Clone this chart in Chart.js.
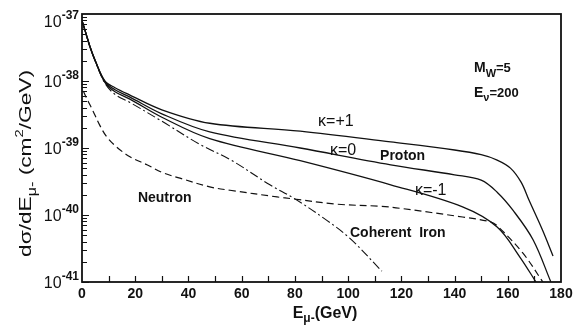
<!DOCTYPE html>
<html>
<head>
<meta charset="utf-8">
<script src="https://cdn.jsdelivr.net/npm/chart.js@4/dist/chart.umd.min.js"></script>
<style>
  html, body { margin: 0; padding: 0; background: #fff; }
  #wrap { width: 576px; height: 329px; }
</style>
</head>
<body>
<div id="wrap"><canvas id="chart" width="576" height="329"></canvas></div>
<script>
// muon energy (GeV) and dsigma/dE (cm^2/GeV) for each curve
const E_KAPPA_PLUS = [0, 1.1, 3, 4.9, 8.6, 12.4, 18, 30, 48, 82, 116, 140, 150, 156, 161, 165, 168, 173, 177];
const SIG_KAPPA_PLUS = [7.94e-38, 5.75e-38, 3.24e-38, 2.04e-38, 1.00e-38, 7.94e-39, 6.17e-39, 3.72e-39, 2.34e-39, 1.78e-39, 1.23e-39, 9.33e-40, 7.94e-40, 6.61e-40, 5.01e-40, 3.09e-40, 1.66e-40, 6.03e-41, 2.45e-41];

const E_KAPPA_ZERO = [0, 1.1, 3, 4.9, 8.6, 12.4, 18, 30, 48, 82, 116, 140, 150, 156, 162, 169.5, 176.2];
const SIG_KAPPA_ZERO = [7.94e-38, 5.75e-38, 3.24e-38, 2.04e-38, 9.77e-39, 7.41e-39, 5.75e-39, 3.24e-39, 1.74e-39, 1.00e-39, 5.62e-40, 3.98e-40, 3.31e-40, 2.19e-40, 1.17e-40, 4.27e-41, 1.0e-41];

const E_KAPPA_MINUS = [0, 1.1, 3, 4.9, 8.6, 12.4, 18, 30, 48, 82, 116, 143, 156, 164.6, 170.6];
const SIG_KAPPA_MINUS = [7.94e-38, 5.75e-38, 3.24e-38, 2.04e-38, 9.55e-39, 6.92e-39, 5.37e-39, 2.88e-39, 1.38e-39, 6.46e-40, 2.82e-40, 1.32e-40, 6.61e-41, 2.34e-41, 1.0e-41];

const E_DASHDOT = [0, 1.1, 3, 4.9, 8.6, 12.4, 18, 30, 44, 56, 70.6, 80, 92, 100.7, 112.7];
const SIG_DASHDOT = [7.94e-38, 5.75e-38, 3.24e-38, 2.00e-38, 9.33e-39, 6.31e-39, 4.79e-39, 2.51e-39, 1.15e-39, 6.61e-40, 2.82e-40, 1.74e-40, 8.32e-41, 4.47e-41, 1.45e-41];

const E_DASHED = [0.5, 2, 3.8, 6.8, 9.4, 13.2, 18, 24.4, 30.4, 36.8, 48, 55.6, 73.3, 79.3, 95.8, 112, 119.5, 143, 153.3, 156, 165.7, 173.2];
const SIG_DASHED = [7.08e-39, 5.25e-39, 3.80e-39, 2.14e-39, 1.45e-39, 1.02e-39, 7.41e-40, 5.62e-40, 4.27e-40, 3.55e-40, 2.63e-40, 2.34e-40, 1.86e-40, 1.74e-40, 1.45e-40, 1.35e-40, 1.26e-40, 9.33e-41, 7.94e-41, 6.92e-41, 2.69e-41, 1.0e-41];

const X_TICK_LABELS = [0, 20, 40, 60, 80, 100, 120, 140, 160, 180];
const Y_TICK_VALUES = [1e-37, 1e-38, 1e-39, 1e-40, 1e-41];
const Y_TICK_EXPONENTS = ["-37", "-38", "-39", "-40", "-41"];

const FONT = '"Liberation Sans", Arial, sans-serif';
const INK = "#111";

const pts = (xs, ys) => xs.map((x, i) => ({ x, y: ys[i] }));

// text labels placed in data coordinates
const NOTES = [
  { x: 88.7, y: 2.14e-39, parts: [{ t: "κ=+1", s: 16 }] },
  { x: 93.2, y: 7.94e-40, parts: [{ t: "κ=0", s: 16 }] },
  { x: 112, y: 6.61e-40, parts: [{ t: "Proton", s: 14, w: "bold" }] },
  { x: 125.1, y: 2.0e-40, parts: [{ t: "κ=-1", s: 16 }] },
  { x: 21, y: 1.55e-40, parts: [{ t: "Neutron", s: 14, w: "bold" }] },
  { x: 100.7, y: 4.68e-41, parts: [{ t: "Coherent  Iron", s: 14, w: "bold" }] },
  { x: 147.3, y: 1.35e-38, parts: [{ t: "M", s: 14, w: "bold" }, { t: "W", s: 11, w: "bold", dy: 5 }, { t: "=5", s: 13, w: "bold" }] },
  { x: 147.3, y: 5.75e-39, parts: [{ t: "E", s: 14, w: "bold" }, { t: "ν", s: 11, w: "bold", dy: 4 }, { t: "=200", s: 13, w: "bold" }] },
];

function setFont(ctx, p) { ctx.font = `${p.w || "normal"} ${p.s}px ${FONT}`; }

function richWidth(ctx, parts) {
  let w = 0;
  for (const p of parts) { setFont(ctx, p); w += ctx.measureText(p.t).width; }
  return w;
}

function drawRich(ctx, parts, x, y) {
  let cx = x;
  for (const p of parts) {
    setFont(ctx, p);
    ctx.fillText(p.t, cx, y + (p.dy || 0));
    cx += ctx.measureText(p.t).width;
  }
}

const framePlugin = {
  id: "frame",
  afterDatasetsDraw(chart) {
    const { ctx, chartArea: a, scales: { x, y } } = chart;
    ctx.save();
    ctx.strokeStyle = INK;
    ctx.fillStyle = INK;

    // box
    ctx.lineWidth = 1.8;
    ctx.strokeRect(a.left, a.top, a.right - a.left, a.bottom - a.top);

    // x ticks every 10 GeV, pointing inward
    ctx.lineWidth = 1.2;
    ctx.beginPath();
    for (let v = 10; v < 180; v += 10) {
      const px = Math.round(x.getPixelForValue(v)) + 0.5;
      ctx.moveTo(px, a.bottom);
      ctx.lineTo(px, a.bottom - 6);
    }
    // y log ticks
    for (let d = -41; d < -37; d++) {
      for (let m = 1; m <= 9; m++) {
        const py = Math.round(y.getPixelForValue(m * Math.pow(10, d))) + 0.5;
        ctx.moveTo(a.left, py);
        ctx.lineTo(a.left + (m === 1 ? 7 : 5), py);
      }
    }
    ctx.stroke();

    // x tick labels
    ctx.textAlign = "center";
    ctx.textBaseline = "alphabetic";
    ctx.font = `bold 14px ${FONT}`;
    X_TICK_LABELS.forEach(v => ctx.fillText(String(v), x.getPixelForValue(v), a.bottom + 16));

    // y tick labels as 10^n
    ctx.textAlign = "right";
    Y_TICK_VALUES.forEach((v, i) => {
      let py = y.getPixelForValue(v);
      if (i === 0) py += 7;
      ctx.font = `bold 12px ${FONT}`;
      const ew = ctx.measureText(Y_TICK_EXPONENTS[i]).width;
      ctx.fillText(Y_TICK_EXPONENTS[i], 79, py - 2);
      ctx.font = `16px ${FONT}`;
      ctx.fillText("10", 79 - ew, py + 6);
    });

    // axis titles
    ctx.textAlign = "left";
    const xt = [{ t: "E", s: 16, w: "bold" }, { t: "μ-", s: 12, w: "bold", dy: 4 }, { t: "(GeV)", s: 16, w: "bold" }];
    const xw = richWidth(ctx, xt);
    drawRich(ctx, xt, 325 - xw / 2, 318);

    const yt = [{ t: "dσ/dE", s: 17 }, { t: "μ-", s: 12, dy: 5 }, { t: " (cm", s: 17 }, { t: "2", s: 11, dy: -8 }, { t: "/GeV)", s: 17 }];
    const yw = richWidth(ctx, yt);
    const stretch = 187 / yw;
    ctx.save();
    ctx.translate(31, 163.5);
    ctx.rotate(-Math.PI / 2);
    ctx.scale(stretch, 1);
    drawRich(ctx, yt, -yw / 2, 0);
    ctx.restore();

    // curve annotations
    NOTES.forEach(n => drawRich(ctx, n.parts, x.getPixelForValue(n.x), y.getPixelForValue(n.y)));
    ctx.restore();
  },
};

const solid = { borderColor: INK, borderWidth: 1.3 };

new Chart(document.getElementById("chart").getContext("2d"), {
  type: "line",
  data: {
    datasets: [
      { label: "κ=+1", data: pts(E_KAPPA_PLUS, SIG_KAPPA_PLUS), ...solid },
      { label: "κ=0", data: pts(E_KAPPA_ZERO, SIG_KAPPA_ZERO), ...solid },
      { label: "κ=-1", data: pts(E_KAPPA_MINUS, SIG_KAPPA_MINUS), ...solid },
      { label: "dash-dot", data: pts(E_DASHDOT, SIG_DASHDOT), borderColor: INK, borderWidth: 1.1, borderDash: [9, 3, 2, 3] },
      { label: "dashed", data: pts(E_DASHED, SIG_DASHED), borderColor: INK, borderWidth: 1.2, borderDash: [7, 4] },
    ],
  },
  options: {
    responsive: false,
    animation: false,
    devicePixelRatio: 1,
    layout: { padding: { left: 82, top: 14, right: 15, bottom: 47 } },
    elements: { point: { radius: 0 }, line: { tension: 0.35, fill: false } },
    scales: {
      x: { type: "linear", min: 0, max: 180, display: false },
      y: { type: "logarithmic", min: 1e-41, max: 1e-37, display: false },
    },
    plugins: { legend: { display: false }, tooltip: { enabled: false } },
  },
  plugins: [framePlugin],
});
</script>
</body>
</html>
